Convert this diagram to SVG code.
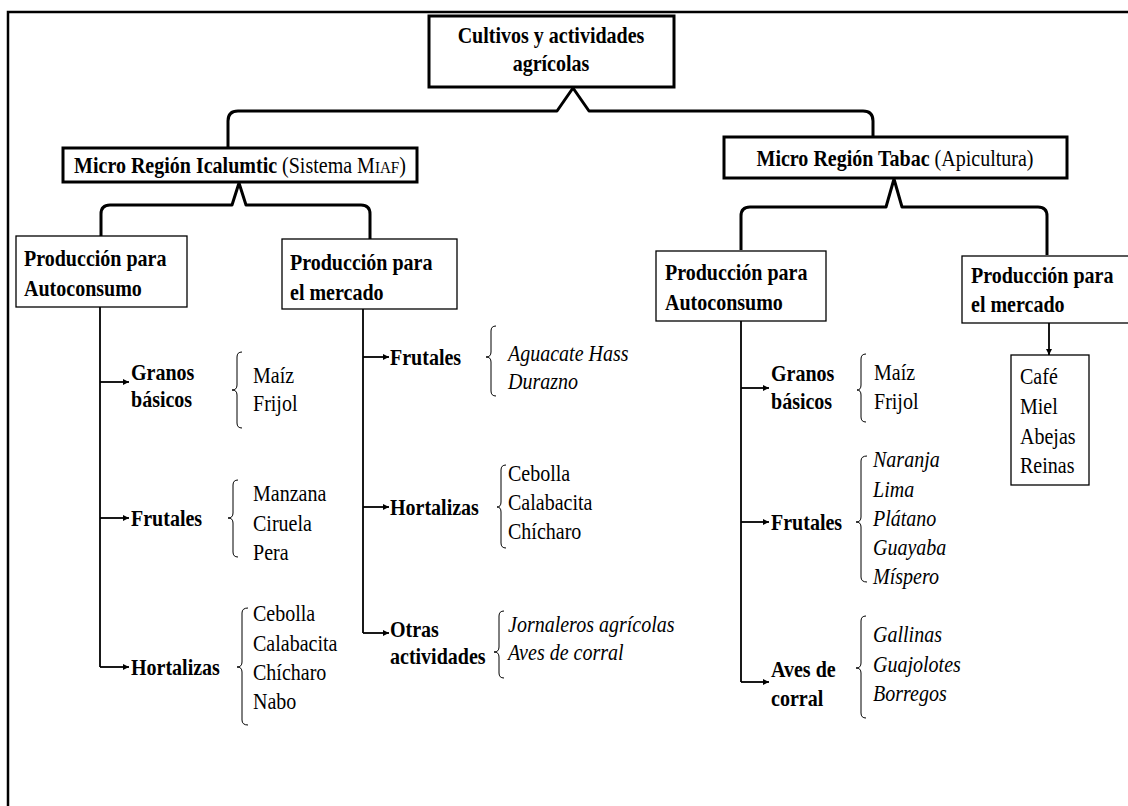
<svg xmlns="http://www.w3.org/2000/svg" width="1128" height="806" viewBox="0 0 1128 806">
<defs>
<style>
text{font-family:"Liberation Serif","Times New Roman",serif;font-size:22.5px;fill:#000}
.b{font-weight:bold}
.i{font-style:italic}
.thick{fill:#fff;stroke:#000;stroke-width:3}
.thin{fill:#fff;stroke:#000;stroke-width:1.3}
.conn{fill:none;stroke:#000;stroke-width:3;stroke-linejoin:round}
.ln{fill:none;stroke:#000;stroke-width:1.8}
.br{fill:none;stroke:#000;stroke-width:1}
</style>
<marker id="ah" viewBox="0 0 8 8" refX="8" refY="4" markerWidth="7" markerHeight="6" markerUnits="userSpaceOnUse" orient="auto">
<path d="M0,0 L8,4 L0,8 z" fill="#000"/>
</marker>
</defs>
<rect width="1128" height="806" fill="#fff"/>
<g id="frame">
<path d="M8 806 L8 12 L1128 12" fill="none" stroke="#000" stroke-width="2.5"/>
</g>
<g id="connectors">
<path class="conn" d="M228 148 L228 121 Q228 111 238 111 L557 111 L573 88 L589 111 L863 111 Q873 111 873 121 L873 137"/>
<path class="conn" d="M101 236 L101 214 Q101 205 110 205 L232 205 L239 183 L246 205 L361 205 Q370 205 370 214 L370 239"/>
<path class="conn" d="M741 250 L741 216 Q741 207 750 207 L886 207 L894 179 L902 207 L1038 207 Q1047 207 1047 216 L1047 255"/>
<path class="ln" d="M100 307 L100 667"/>
<path class="ln" d="M100 382 L129 382" marker-end="url(#ah)"/>
<path class="ln" d="M100 518 L129 518" marker-end="url(#ah)"/>
<path class="ln" d="M100 667 L129 667" marker-end="url(#ah)"/>
<path class="ln" d="M363 309 L363 633"/>
<path class="ln" d="M363 357 L389 357" marker-end="url(#ah)"/>
<path class="ln" d="M363 507 L389 507" marker-end="url(#ah)"/>
<path class="ln" d="M363 633 L389 633" marker-end="url(#ah)"/>
<path class="ln" d="M741 321 L741 682"/>
<path class="ln" d="M741 388 L769 388" marker-end="url(#ah)"/>
<path class="ln" d="M741 522 L769 522" marker-end="url(#ah)"/>
<path class="ln" d="M741 682 L769 682" marker-end="url(#ah)"/>
<path class="ln" d="M1049 323 L1049 355" marker-end="url(#ah)"/>
</g>
<g id="title">
<rect class="thick" x="429" y="16" width="245" height="71"/>
<text class="b" text-anchor="middle" transform="translate(551 43) scale(.89 1)">Cultivos y actividades</text>
<text class="b" text-anchor="middle" transform="translate(551 71) scale(.89 1)">agrícolas</text>
</g>
<g id="icalumtic">
<rect class="thick" x="63" y="148" width="354" height="34"/>
<text text-anchor="middle" transform="translate(240 173) scale(.89 1)"><tspan class="b">Micro Región Icalumtic</tspan> (Sistema M<tspan font-size="17">IAF</tspan>)</text>
</g>
<g id="tabac">
<rect class="thick" x="724" y="137" width="343" height="41"/>
<text text-anchor="middle" transform="translate(895 166) scale(.89 1)"><tspan class="b">Micro Región Tabac</tspan> (Apicultura)</text>
</g>
<g id="auto-left">
<rect class="thin" x="16" y="236" width="171" height="71"/>
<text class="b" transform="translate(24 266) scale(.89 1)">Producción para</text>
<text class="b" transform="translate(24 296) scale(.89 1)">Autoconsumo</text>
</g>
<g id="mercado-left">
<rect class="thin" x="282" y="239" width="175" height="70"/>
<text class="b" transform="translate(290 270) scale(.89 1)">Producción para</text>
<text class="b" transform="translate(290 300) scale(.89 1)">el mercado</text>
</g>
<g id="auto-right">
<rect class="thin" x="656" y="251" width="170" height="70"/>
<text class="b" transform="translate(665 280) scale(.89 1)">Producción para</text>
<text class="b" transform="translate(665 310) scale(.89 1)">Autoconsumo</text>
</g>
<g id="mercado-right">
<rect class="thin" x="962" y="256" width="170" height="67"/>
<text class="b" transform="translate(971 283) scale(.89 1)">Producción para</text>
<text class="b" transform="translate(971 312) scale(.89 1)">el mercado</text>
</g>
<g id="cafe">
<rect class="thin" x="1011" y="355" width="78" height="130"/>
<text transform="translate(1020 384) scale(.89 1)">Café</text>
<text transform="translate(1020 414) scale(.89 1)">Miel</text>
<text transform="translate(1020 444) scale(.89 1)">Abejas</text>
<text transform="translate(1020 473) scale(.89 1)">Reinas</text>
</g>
<g id="granos-left">
<text class="b" transform="translate(131 380) scale(.89 1)">Granos</text>
<text class="b" transform="translate(131 407) scale(.89 1)">básicos</text>
<path class="br" d="M242 352 Q237 352 237 357 L237 385 Q237 390 232 390 Q237 390 237 395 L237 423 Q237 428 242 428"/>
<text transform="translate(253 383) scale(.89 1)">Maíz</text>
<text transform="translate(253 411) scale(.89 1)">Frijol</text>
</g>
<g id="frutales-left">
<text class="b" transform="translate(131 526) scale(.89 1)">Frutales</text>
<path class="br" d="M238 480 Q233 480 233 485 L233 513 Q233 518 228 518 Q233 518 233 523 L233 552 Q233 557 238 557"/>
<text transform="translate(253 501) scale(.89 1)">Manzana</text>
<text transform="translate(253 531) scale(.89 1)">Ciruela</text>
<text transform="translate(253 560) scale(.89 1)">Pera</text>
</g>
<g id="hortalizas-left">
<text class="b" transform="translate(131 675) scale(.89 1)">Hortalizas</text>
<path class="br" d="M248 608 Q242 608 242 613 L242 662 Q242 667 237 667 Q242 667 242 672 L242 720 Q242 725 248 725"/>
<text transform="translate(253 621) scale(.89 1)">Cebolla</text>
<text transform="translate(253 651) scale(.89 1)">Calabacita</text>
<text transform="translate(253 680) scale(.89 1)">Chícharo</text>
<text transform="translate(253 709) scale(.89 1)">Nabo</text>
</g>
<g id="frutales-mid">
<text class="b" transform="translate(390 365) scale(.89 1)">Frutales</text>
<path class="br" d="M496 326 Q491 326 491 331 L491 352 Q491 357 486 357 Q491 357 491 362 L491 391 Q491 396 496 396"/>
<text class="i" transform="translate(508 361) scale(.89 1)">Aguacate Hass</text>
<text class="i" transform="translate(508 389) scale(.89 1)">Durazno</text>
</g>
<g id="hortalizas-mid">
<text class="b" transform="translate(390 515) scale(.89 1)">Hortalizas</text>
<path class="br" d="M506 465 Q501 465 501 470 L501 502 Q501 507 497 507 Q501 507 501 512 L501 543 Q501 548 506 548"/>
<text transform="translate(508 481) scale(.89 1)">Cebolla</text>
<text transform="translate(508 510) scale(.89 1)">Calabacita</text>
<text transform="translate(508 539) scale(.89 1)">Chícharo</text>
</g>
<g id="otras-mid">
<text class="b" transform="translate(390 637) scale(.89 1)">Otras</text>
<text class="b" transform="translate(390 664) scale(.89 1)">actividades</text>
<path class="br" d="M504 611 Q499 611 499 616 L499 647 Q499 652 494 652 Q499 652 499 657 L499 673 Q499 678 504 678"/>
<text class="i" transform="translate(508 632) scale(.89 1)">Jornaleros agrícolas</text>
<text class="i" transform="translate(508 660) scale(.89 1)">Aves de corral</text>
</g>
<g id="granos-right">
<text class="b" transform="translate(771 381) scale(.89 1)">Granos</text>
<text class="b" transform="translate(771 409) scale(.89 1)">básicos</text>
<path class="br" d="M866 354 Q861 354 861 359 L861 385 Q861 390 857 390 Q861 390 861 395 L861 417 Q861 422 866 422"/>
<text transform="translate(874 380) scale(.89 1)">Maíz</text>
<text transform="translate(874 409) scale(.89 1)">Frijol</text>
</g>
<g id="frutales-right">
<text class="b" transform="translate(771 530) scale(.89 1)">Frutales</text>
<path class="br" d="M867 456 Q861 456 861 461 L861 517 Q861 522 856 522 Q861 522 861 527 L861 577 Q861 582 867 582"/>
<text class="i" transform="translate(873 467) scale(.89 1)">Naranja</text>
<text class="i" transform="translate(873 497) scale(.89 1)">Lima</text>
<text class="i" transform="translate(873 526) scale(.89 1)">Plátano</text>
<text class="i" transform="translate(873 555) scale(.89 1)">Guayaba</text>
<text class="i" transform="translate(873 584) scale(.89 1)">Míspero</text>
</g>
<g id="aves-right">
<text class="b" transform="translate(771 677) scale(.89 1)">Aves de</text>
<text class="b" transform="translate(771 706) scale(.89 1)">corral</text>
<path class="br" d="M866 616 Q861 616 861 621 L861 663 Q861 668 856 668 Q861 668 861 673 L861 713 Q861 718 866 718"/>
<text class="i" transform="translate(873 642) scale(.89 1)">Gallinas</text>
<text class="i" transform="translate(873 672) scale(.89 1)">Guajolotes</text>
<text class="i" transform="translate(873 701) scale(.89 1)">Borregos</text>
</g>
</svg>
